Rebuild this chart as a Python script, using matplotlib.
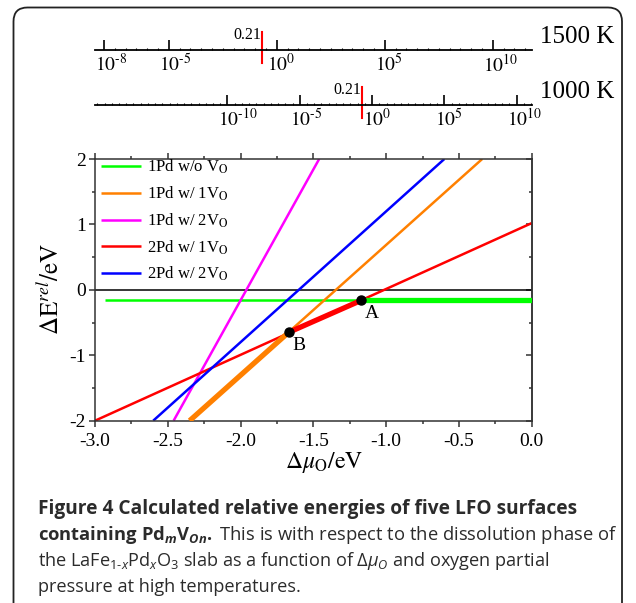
import numpy as np
import matplotlib
matplotlib.use('Agg')
import matplotlib.pyplot as plt
from matplotlib.patches import FancyBboxPatch
from matplotlib.ticker import FixedLocator, LogLocator, MultipleLocator, FormatStrFormatter, NullFormatter

# surfaces: end points of each line (dmu_O / eV, dE_rel / eV)
labels = [r'1Pd w/o V$_\mathrm{O}$', r'1Pd w/ 1V$_\mathrm{O}$', r'1Pd w/ 2V$_\mathrm{O}$',
          r'2Pd w/ 1V$_\mathrm{O}$', r'2Pd w/ 2V$_\mathrm{O}$']
colors = ['#00ff00', '#ff8000', '#ff00ff', '#ff0000', '#0000ff']
mu_ends = [[-2.93, 0.0], [-2.35, -0.34], [-2.46, -1.46], [-3.0, 0.0], [-2.60, -0.60]]
E_ends = [[-0.16, -0.16], [-2.0, 2.0], [-2.0, 2.0], [-2.0, 1.02], [-2.0, 2.0]]

# lowest energy path (drawn thick)
hull_mu = [[-2.35, -1.67], [-1.67, -1.17], [-1.17, 0.0]]
hull_E = [[-2.0, -0.65], [-0.65, -0.16], [-0.16, -0.16]]
hull_colors = ['#ff8000', '#ff0000', '#00ff00']

# crossing points
pt_names = ['A', 'B']
pt_mu = [-1.17, -1.67]
pt_E = [-0.16, -0.65]

# oxygen partial pressure scales on top
p_air = 0.21
temps = ['1500 K', '1000 K']
p_ticks = [[1e-8, 1e-5, 1e0, 1e5, 1e10], [1e-10, 1e-5, 1e0, 1e5, 1e10]]
p_lims = [(10**-8.42, 10**11.8), (10**-19.16, 10**11.04)]

plt.rcParams['font.family'] = 'Liberation Serif'
plt.rcParams['mathtext.fontset'] = 'stix'
plt.rcParams['axes.unicode_minus'] = False
plt.rcParams['mathtext.rm'] = 'Open Sans'
plt.rcParams['mathtext.it'] = 'Open Sans:italic'
plt.rcParams['mathtext.bf'] = 'Open Sans:bold'
plt.rcParams['mathtext.sf'] = 'Open Sans'
has_bfit = 'mathtext.bfit' in plt.rcParams
if has_bfit:
    plt.rcParams['mathtext.bfit'] = 'Open Sans:italic:bold'

W, H = 636, 603
fig = plt.figure(figsize=(W / 100, H / 100), dpi=100)


def fx(px):
    return px / W


def fy(py):
    return 1 - py / H


# rounded frame around the figure
frame = FancyBboxPatch((13.5, -30), 608.5, H - 7.5 + 30, boxstyle='round,pad=0,rounding_size=14',
                       transform=None, fill=False, lw=1.3, ec='#222222')
fig.patches.append(frame)

# main panel
left, right, top, bottom = 95, 531.7, 159, 420.7
ax = fig.add_axes([fx(left), fy(bottom), (right - left) / W, (bottom - top) / H])
ax.axhline(0, color='black', lw=1.1, zorder=1)
for lab, c, m, e in zip(labels, colors, mu_ends, E_ends):
    ax.plot(m, e, color=c, lw=1.8, label=lab, solid_capstyle='butt', zorder=2)
for c, m, e in zip(hull_colors, hull_mu, hull_E):
    ax.plot(m, e, color=c, lw=3.8, solid_capstyle='butt', zorder=3)
ax.plot(pt_mu, pt_E, 'o', color='black', ms=6.5, zorder=4)
for n, m, e in zip(pt_names, pt_mu, pt_E):
    ax.annotate(n, (m, e), xytext=(2.5, -3.2), textcoords='offset points',
                ha='left', va='top', fontsize=14)

ax.set_xlim(-3, 0)
ax.set_ylim(-2, 2)
ax.xaxis.set_major_locator(MultipleLocator(0.5))
ax.xaxis.set_minor_locator(MultipleLocator(0.25))
ax.yaxis.set_major_locator(MultipleLocator(1))
ax.yaxis.set_minor_locator(MultipleLocator(0.5))
ax.xaxis.set_major_formatter(FormatStrFormatter('%.1f'))
ax.yaxis.set_major_formatter(FormatStrFormatter('%d'))
for s in ax.spines.values():
    s.set_color('#333333')
    s.set_linewidth(1.1)
ax.tick_params(which='both', direction='out', top=True, right=False, labelsize=14,
               color='#333333', width=1.1)
ax.tick_params(axis='x', pad=4.5)
ax.tick_params(axis='y', pad=2)
ax.tick_params(which='major', length=4.3)
ax.tick_params(which='minor', length=2.4)
axr = ax.secondary_yaxis('right')
axr.yaxis.set_major_locator(MultipleLocator(1))
axr.yaxis.set_minor_locator(MultipleLocator(0.5))
axr.yaxis.set_major_formatter(NullFormatter())
axr.spines['right'].set_color('#333333')
axr.spines['right'].set_linewidth(1.1)
axr.tick_params(which='both', direction='in', color='#333333', width=1.1)
axr.tick_params(which='major', length=4.3)
axr.tick_params(which='minor', length=2.4)

ax.legend(loc='upper left', bbox_to_anchor=(0.014, 1.004), frameon=False, fontsize=12,
          handlelength=2.4, handletextpad=0.35, labelspacing=0.5,
          borderaxespad=0, borderpad=0)

fig.text(fx(50.5), fy(289), r'$\Delta\mathrm{E}^{rel}/\mathrm{eV}$', rotation=90,
         ha='center', va='center', fontsize=18)
fig.text(fx(324), fy(468), r'$\Delta\mu_\mathrm{O}/\mathrm{eV}$',
         ha='center', va='baseline', fontsize=17)

# pressure axes
for i, y_line in enumerate([50, 104.5]):
    axp = fig.add_axes([fx(left), fy(y_line), (right - left) / W, 20 / H])
    axp.patch.set_visible(False)
    axp.set_xscale('log')
    axp.set_xlim(p_lims[i])
    axp.set_ylim(0, 1)
    for s in ['top', 'left', 'right']:
        axp.spines[s].set_visible(False)
    axp.spines['bottom'].set_linewidth(1.3)
    axp.set_yticks([])
    axp.xaxis.set_major_locator(FixedLocator(p_ticks[i]))
    axp.xaxis.set_minor_locator(LogLocator(base=10, subs=(1.0, 10 ** 0.5), numticks=200))
    axp.xaxis.set_minor_formatter(NullFormatter())
    axp.tick_params(which='both', direction='in', labelbottom=False, width=1.2)
    axp.tick_params(which='major', length=7)
    axp.tick_params(which='minor', length=1.8, width=0.8)
    for v in p_ticks[i]:
        axp.annotate(r'$10^{\text{-}%d}$' % abs(int(round(np.log10(v)))) if v < 1
                     else r'$10^{%d}$' % int(round(np.log10(v))),
                     xy=(v, 0), xycoords=('data', 'axes fraction'), xytext=(-6.8, -2.5),
                     textcoords='offset points', ha='left', va='top', fontsize=14)
    axp.axvline(p_air, ymin=-0.65, ymax=0.9, color='red', lw=1.5, clip_on=False)
    axp.annotate('0.21', xy=(p_air, 0), xycoords=('data', 'axes fraction'),
                 xytext=(-1, 10.5), textcoords='offset points', ha='right', va='center',
                 fontsize=11.5)
    fig.text(fx(540), fy(y_line - 13), temps[i], ha='left', va='center', fontsize=18)

# caption
bold_sub = r'\mathbfit' if has_bfit else r'\mathbf'
cap_kw = dict(family='Open Sans', color='#2b2b2b', ha='left', va='baseline',
              math_fontfamily='custom')
fig.text(fx(37.5), fy(514), 'Figure 4 Calculated relative energies of five LFO surfaces',
         fontweight='bold', fontsize=13.8, **cap_kw)
fig.text(fx(37.5), fy(540),
         r'$\mathbf{containing\ Pd}_{%s{m}}\mathbf{V}_{%s{On}}\mathbf{.}$ This is with respect to the dissolution phase of'
         % (bold_sub, bold_sub), fontsize=13.2, **cap_kw)
fig.text(fx(37.5), fy(566.5),
         r'the LaFe$_{1\text{-}x}$Pd$_x$O$_3$ slab as a function of $\Delta\mu_O$ and oxygen partial',
         fontsize=13.1, **cap_kw)
fig.text(fx(37.5), fy(592.5), 'pressure at high temperatures.', fontsize=13.1, **cap_kw)

fig.savefig('out.png', dpi=100)
